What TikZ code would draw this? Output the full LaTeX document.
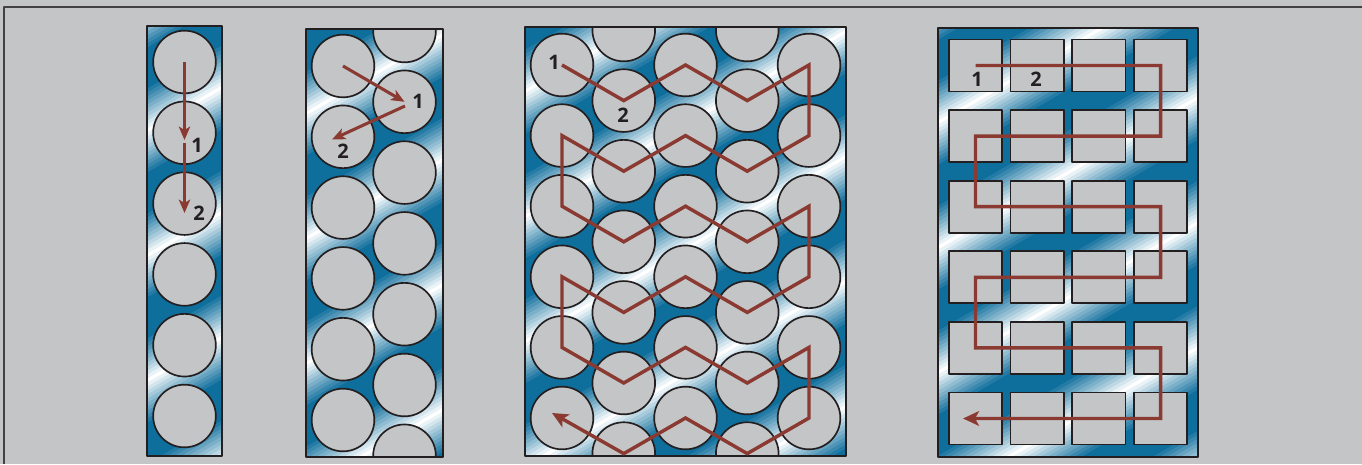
\documentclass[tikz,border=0pt]{standalone}
\usepackage{fontspec}
\setmainfont{Open Sans}
\usetikzlibrary{arrows.meta}
\definecolor{pnlblue}{HTML}{0E6E9C}
\definecolor{bggray}{HTML}{C4C5C7}
\definecolor{ink}{HTML}{231F20}
\definecolor{route}{HTML}{8B3A32}
\tikzset{
  every picture/.style={line join=round, >=Stealth},
  cell/.style={circle, draw=ink, fill=bggray, line width=1.25pt, inner sep=0pt, minimum size=47pt},
  slot/.style={rectangle, draw=ink, fill=bggray, line width=1.25pt, inner sep=0pt, minimum width=40pt, minimum height=39pt},
  panel/.style={draw=ink, line width=1.2pt},
  lbl/.style={text=ink, font=\bfseries\fontsize{15}{15}\selectfont, inner sep=0pt},
  hop/.style={draw=route, line width=2.3pt, -{Stealth[length=10pt,width=8.5pt,inset=2.5pt]}},
  tour/.style={draw=route, line width=2.6pt, line join=miter, -{Stealth[length=12pt,width=11pt,inset=3pt]}},
}
% blue plate with white diagonal streaks: corners, then phase
\newcommand\metal[5]{%
  \fill[pnlblue] (#1,#2) rectangle (#3,#4);
  \begin{scope}
    \clip (#1,#2) rectangle (#3,#4);
    \foreach \bn in {0,...,8}{
      \foreach \st in {-11,...,11}{
        \pgfmathsetmacro\pc{100*abs(\st)/11}
        \fill[pnlblue!\pc!white] ({#1},{#2+#5+\bn*125+\st*4-2.3}) -- ({#3},{#2+#5+\bn*125+\st*4-2.3-0.577*(#3-#1)})
          -- ++(0,4.6) -- ({#1},{#2+#5+\bn*125+\st*4+2.3}) -- cycle;
      }
    }
  \end{scope}}

\begin{document}
\begin{tikzpicture}[x=0.75pt,y=-0.75pt]
\useasboundingbox (0,0) rectangle (1362,464);
\fill[bggray] (0,0) rectangle (1362,464);
\draw[ink!85, line width=1.1pt] (4,464) -- (4,7) -- (1362,7);

% single file
\metal{147}{26}{222}{456}{-20}
\foreach \i in {1,...,6}{\node[cell] (s\i) at (184.5,{62+70.8*(\i-1)}) {};}
\draw[panel] (147,26) rectangle (222,456);
\coordinate (s1a) at (184.5,140); \coordinate (s2o) at (184.5,143); \coordinate (s2a) at (184.5,213);
\draw[hop] (s1.center) -- (s1a);
\draw[hop] (s2o) -- (s2a);
\node[lbl] (n1a) at (197,145) {1};
\node[lbl] (n1b) at (199,213) {2};

% staggered pair
\metal{306}{29}{443}{457}{-40}
\begin{scope}
  \clip (306,29) rectangle (443,457);
  \foreach \i in {1,...,6}{\node[cell] (l\i) at (343,{66+70.8*(\i-1)}) {};}
  \foreach \i in {1,...,7}{\node[cell] (r\i) at (404.5,{31+70.8*(\i-1)}) {};}
\end{scope}
\draw[panel] (306,29) rectangle (443,457);
\coordinate (r2o) at (405,106); \coordinate (l2a) at (332,139.5);
\draw[hop] (l1.center) -- (r2.center);
\draw[hop] (r2o) -- (l2a);
\node[lbl] (n2a) at (418,101) {1};
\node[lbl] (n2b) at (343,151) {2};

% hexagonal packing
\metal{525}{27}{846}{456}{-60}
\begin{scope}
  \clip (525,27) rectangle (846,456);
  \foreach \c in {1,3,5}{\foreach \r in {1,...,6}{\node[cell] (h\c-\r) at ({562+61.75*(\c-1)},{65+70.6*(\r-1)}) {};}}
  \foreach \c in {2,4}{\foreach \r in {1,...,7}{\node[cell] (h\c-\r) at ({562+61.75*(\c-1)},{30+70.6*(\r-1)}) {};}}
\end{scope}
\draw[panel] (525,27) rectangle (846,456);
\coordinate (h-end) at (552,413);
\draw[tour] (h1-1.center) foreach \p in {2-2,3-1,4-2,5-1,5-2,4-3,3-2,2-3,1-2,1-3,2-4,3-3,4-4,5-3,5-4,4-5,3-4,2-5,1-4,1-5,2-6,3-5,4-6,5-5,5-6,4-7,3-6,2-7}{ -- (h\p.center)} -- (h-end);
\node[lbl] (n3a) at (554,62) {1};
\node[lbl] (n3b) at (623,115) {2};

% rectangular grid
\metal{938}{28}{1198}{457}{-30}
\foreach \c in {1,...,4}{\foreach \r in {1,...,6}{\node[slot] (b\c-\r) at ({975.5+61.7*(\c-1)},{65.5+70.6*(\r-1)}) {};}}
\draw[panel] (938,28) rectangle (1198,457);
\coordinate (b-end) at (963,418.5);
\draw[tour] (b1-1.center) -- (b4-1.center) -- (b4-2.center) -- (b1-2.center) -- (b1-3.center) -- (b4-3.center)
  -- (b4-4.center) -- (b1-4.center) -- (b1-5.center) -- (b4-5.center) -- (b4-6.center) -- (b-end);
\node[lbl] (n4a) at (977,79) {1};
\node[lbl] (n4b) at (1036,79) {2};
\end{tikzpicture}
\end{document}
